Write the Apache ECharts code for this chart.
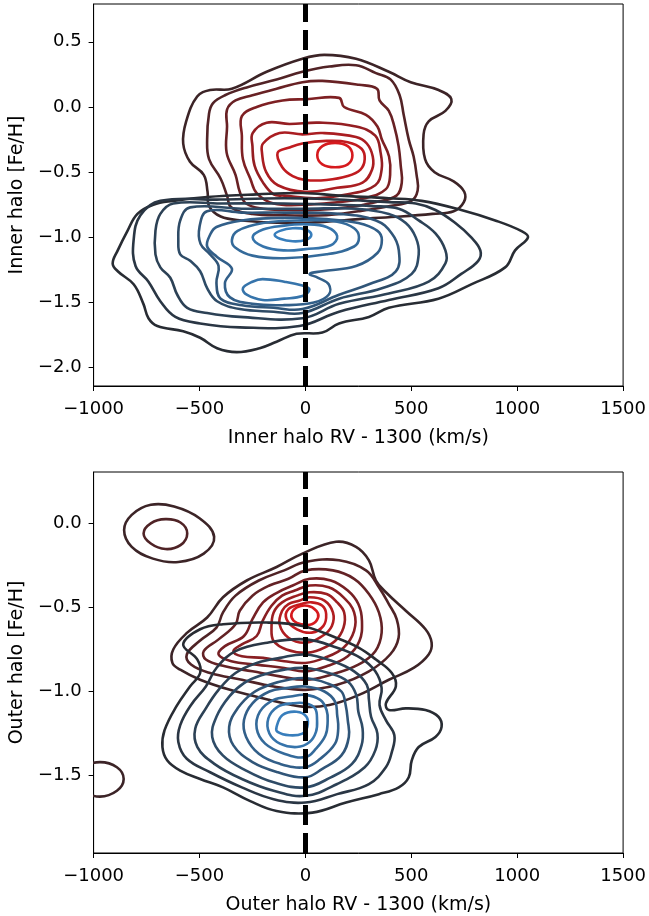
<!DOCTYPE html>
<html><head><meta charset="utf-8">
<script src="https://cdn.jsdelivr.net/npm/echarts@6/dist/echarts.min.js"></script>
<style>html,body{margin:0;padding:0;background:#fff}#c{width:649px;height:916px}</style>
</head><body><div id="c"></div>
<script>
// ---- Data ----
const xTicks = [-1000, -500, 0, 500, 1000, 1500];
const innerYTicks = [-2.0, -1.5, -1.0, -0.5, 0.0, 0.5];
const outerYTicks = [-1.5, -1.0, -0.5, 0.0];
const refX = [0];

// Inner halo, metal-rich population (red), outer -> inner contour
const innerRed = [
 [[-577,-0.28],[-563,-0.11],[-511,0.08],[-450,0.13],[-347,0.14],[-183,0.27],[-14,0.37],[89,0.40],[239,0.37],[394,0.27],[497,0.19],[629,0.13],[689,0.06],[661,-0.03],[582,-0.11],[558,-0.21],[565,-0.40],[610,-0.50],[700,-0.57],[750,-0.65],[748,-0.73],[700,-0.80],[600,-0.82],[450,-0.84],[250,-0.86],[100,-0.88],[-100,-0.89],[-300,-0.87],[-400,-0.84],[-455,-0.76],[-462,-0.65],[-480,-0.52],[-545,-0.42]],
 [[-464,-0.25],[-455,-0.05],[-436,0.03],[-380,0.09],[-277,0.15],[-136,0.21],[-14,0.27],[113,0.31],[239,0.32],[333,0.26],[403,0.21],[445,0.09],[464,-0.06],[488,-0.25],[511,-0.38],[525,-0.52],[530,-0.64],[500,-0.72],[400,-0.76],[250,-0.80],[100,-0.83],[-100,-0.83],[-250,-0.82],[-350,-0.77],[-370,-0.68],[-400,-0.55],[-455,-0.40]],
 [[-372,-0.35],[-370,-0.15],[-370,-0.02],[-330,0.05],[-250,0.09],[-136,0.14],[-14,0.19],[80,0.20],[253,0.17],[338,0.14],[350,0.05],[394,-0.03],[420,-0.15],[440,-0.30],[450,-0.45],[455,-0.58],[430,-0.68],[330,-0.73],[200,-0.77],[50,-0.79],[-100,-0.79],[-200,-0.78],[-280,-0.74],[-310,-0.65],[-330,-0.52]],
 [[-300,-0.22],[-300,-0.07],[-230,0.0],[-108,0.05],[5,0.06],[159,0.07],[183,0.0],[286,-0.06],[340,-0.15],[361,-0.25],[395,-0.38],[400,-0.52],[380,-0.63],[280,-0.70],[150,-0.73],[0,-0.75],[-150,-0.74],[-230,-0.66],[-260,-0.55],[-295,-0.40]],
 [[-250,-0.30],[-249,-0.20],[-183,-0.12],[-75,-0.13],[66,-0.12],[239,-0.15],[330,-0.22],[355,-0.35],[360,-0.48],[330,-0.60],[200,-0.67],[50,-0.70],[-100,-0.68],[-150,-0.67],[-200,-0.58],[-240,-0.45]],
 [[-205,-0.35],[-200,-0.28],[-122,-0.20],[-14,-0.21],[80,-0.20],[239,-0.23],[290,-0.28],[318,-0.38],[315,-0.48],[270,-0.58],[150,-0.62],[0,-0.65],[-130,-0.60],[-185,-0.50]],
 [[-131,-0.35],[-75,-0.31],[-14,-0.28],[100,-0.26],[200,-0.27],[265,-0.32],[280,-0.40],[260,-0.48],[200,-0.53],[100,-0.56],[0,-0.56],[-60,-0.53],[-110,-0.46]],
 [[56,-0.37],[80,-0.30],[140,-0.275],[200,-0.30],[222,-0.37],[200,-0.44],[140,-0.462],[80,-0.44]]
];
const innerRedLevels = [0,1,2,3,4,5,6,7];

// Inner halo, metal-poor population (blue)
const innerBlue = [
 [[-14,-0.66],[-230,-0.67],[-464,-0.69],[-624,-0.72],[-718,-0.75],[-793,-0.82],[-840,-0.95],[-886,-1.10],[-910,-1.20],[-886,-1.26],[-811,-1.36],[-765,-1.51],[-741,-1.62],[-699,-1.68],[-577,-1.72],[-497,-1.77],[-417,-1.85],[-324,-1.88],[-216,-1.85],[-136,-1.80],[-42,-1.74],[80,-1.73],[159,-1.66],[300,-1.61],[394,-1.54],[628,-1.47],[783,-1.36],[943,-1.23],[990,-1.10],[1051,-1.00],[1018,-0.95],[896,-0.87],[736,-0.79],[549,-0.72],[394,-0.70],[159,-0.68]],
 [[-685,-0.72],[-779,-0.83],[-811,-1.02],[-802,-1.22],[-741,-1.34],[-685,-1.49],[-614,-1.61],[-497,-1.66],[-310,-1.69],[-28,-1.68],[159,-1.57],[394,-1.48],[628,-1.39],[736,-1.28],[816,-1.18],[826,-1.10],[783,-1.0],[708,-0.89],[614,-0.79],[521,-0.74],[394,-0.73],[150,-0.71],[-100,-0.70],[-400,-0.71]],
 [[-624,-0.74],[-685,-0.82],[-708,-0.95],[-708,-1.13],[-685,-1.23],[-638,-1.31],[-605,-1.44],[-558,-1.54],[-464,-1.58],[-310,-1.61],[-14,-1.62],[159,-1.51],[394,-1.43],[582,-1.34],[661,-1.20],[661,-1.10],[614,-0.97],[535,-0.87],[441,-0.78],[314,-0.76],[150,-0.75],[-100,-0.74],[-400,-0.74]],
 [[-544,-0.77],[-591,-0.87],[-600,-1.03],[-591,-1.13],[-544,-1.18],[-497,-1.26],[-464,-1.39],[-417,-1.49],[-310,-1.55],[-150,-1.57],[-14,-1.58],[159,-1.47],[361,-1.39],[502,-1.28],[535,-1.13],[521,-1.0],[474,-0.89],[394,-0.82],[239,-0.78],[0,-0.78],[-300,-0.78]],
 [[-464,-0.80],[-500,-0.92],[-495,-1.05],[-450,-1.13],[-410,-1.22],[-420,-1.35],[-400,-1.47],[-300,-1.52],[-150,-1.54],[-14,-1.55],[159,-1.44],[300,-1.36],[427,-1.26],[441,-1.10],[408,-0.97],[333,-0.87],[159,-0.82],[-100,-0.81],[-300,-0.81]],
 [[-450,-0.98],[-420,-0.92],[-300,-0.87],[-100,-0.85],[100,-0.86],[250,-0.89],[340,-0.95],[361,-1.02],[340,-1.12],[239,-1.22],[80,-1.26],[20,-1.28],[60,-1.31],[110,-1.36],[110,-1.44],[40,-1.50],[-100,-1.52],[-250,-1.51],[-356,-1.46],[-380,-1.35],[-347,-1.24],[-417,-1.15],[-464,-1.07]],
 [[-347,-1.02],[-320,-0.95],[-200,-0.89],[-14,-0.87],[150,-0.88],[230,-0.93],[253,-1.0],[230,-1.07],[100,-1.13],[-100,-1.16],[-250,-1.14],[-330,-1.08]],
 [[-249,-1.0],[-200,-0.94],[-100,-0.91],[0,-0.90],[100,-0.92],[150,-0.99],[120,-1.06],[0,-1.09],[-100,-1.10],[-200,-1.07]],
 [[-295,-1.39],[-250,-1.34],[-202,-1.32],[-100,-1.34],[-14,-1.37],[19,-1.40],[-14,-1.45],[-100,-1.47],[-202,-1.48],[-277,-1.44]],
 [[-145,-0.98],[-120,-0.95],[-60,-0.93],[0,-0.94],[28,-0.98],[0,-1.02],[-60,-1.03],[-120,-1.01]]
];
const innerBlueLevels = [0,1,2,3,4,5,6,7,7,8];

// Outer halo, metal-rich population (red)
const outerRed = [
 [[-14,-0.18],[145,-0.11],[239,-0.14],[300,-0.22],[333,-0.34],[380,-0.41],[474,-0.52],[567,-0.63],[596,-0.71],[582,-0.78],[511,-0.86],[394,-0.93],[253,-1.02],[113,-1.08],[-14,-1.09],[-169,-1.05],[-356,-0.99],[-497,-0.93],[-591,-0.87],[-628,-0.83],[-624,-0.75],[-558,-0.65],[-464,-0.56],[-389,-0.44],[-277,-0.34],[-136,-0.26]],
 [[-100,-0.28],[0,-0.23],[159,-0.22],[286,-0.28],[347,-0.38],[394,-0.48],[431,-0.57],[440,-0.68],[400,-0.78],[300,-0.88],[150,-0.96],[0,-0.99],[-150,-0.97],[-300,-0.93],[-450,-0.89],[-540,-0.84],[-560,-0.78],[-500,-0.70],[-420,-0.62],[-389,-0.53],[-330,-0.43],[-220,-0.34]],
 [[-80,-0.33],[0,-0.28],[130,-0.28],[230,-0.33],[300,-0.42],[347,-0.53],[360,-0.65],[330,-0.76],[250,-0.84],[120,-0.90],[0,-0.93],[-120,-0.91],[-250,-0.88],[-380,-0.85],[-470,-0.81],[-480,-0.76],[-410,-0.69],[-330,-0.60],[-310,-0.52],[-250,-0.43],[-170,-0.37]],
 [[-60,-0.37],[20,-0.33],[120,-0.34],[200,-0.40],[250,-0.48],[267,-0.58],[255,-0.70],[200,-0.79],[100,-0.85],[0,-0.88],[-100,-0.86],[-230,-0.84],[-350,-0.82],[-410,-0.78],[-380,-0.73],[-290,-0.67],[-250,-0.57],[-200,-0.47],[-130,-0.41]],
 [[-50,-0.40],[20,-0.37],[110,-0.38],[180,-0.44],[230,-0.53],[230,-0.64],[180,-0.74],[90,-0.80],[0,-0.83],[-100,-0.82],[-200,-0.80],[-300,-0.79],[-340,-0.76],[-300,-0.72],[-230,-0.67],[-202,-0.58],[-160,-0.49],[-110,-0.43]],
 [[-40,-0.43],[20,-0.41],[100,-0.42],[150,-0.47],[183,-0.53],[180,-0.62],[140,-0.70],[70,-0.75],[0,-0.77],[-90,-0.75],[-150,-0.70],[-160,-0.62],[-150,-0.53],[-110,-0.47]],
 [[-30,-0.46],[20,-0.44],[90,-0.46],[130,-0.53],[125,-0.61],[80,-0.67],[0,-0.71],[-80,-0.68],[-122,-0.60],[-110,-0.52],[-80,-0.48]],
 [[-20,-0.48],[30,-0.47],[80,-0.49],[98,-0.54],[85,-0.61],[30,-0.65],[-40,-0.63],[-89,-0.57],[-80,-0.51]],
 [[-66,-0.54],[-40,-0.50],[10,-0.49],[52,-0.52],[60,-0.56],[30,-0.60],[-20,-0.60],[-55,-0.58]],
 // isolated islands
 [[-856,-0.04],[-820,0.05],[-730,0.11],[-620,0.10],[-500,0.03],[-431,-0.08],[-480,-0.18],[-600,-0.23],[-720,-0.21],[-820,-0.14]],
 [[-764,-0.06],[-730,0.0],[-661,0.025],[-590,0.005],[-558,-0.06],[-590,-0.13],[-661,-0.153],[-730,-0.12]],
 [[-970,-1.42],[-890,-1.45],[-858,-1.52],[-890,-1.59],[-970,-1.625],[-1050,-1.59],[-1082,-1.52],[-1050,-1.45]]
];
const outerRedLevels = [0,1,2,3,4,5,6,7,8,0,1,0];

// Outer halo, metal-poor population (blue)
const outerBlue = [
 [[-14,-0.61],[145,-0.68],[253,-0.74],[333,-0.81],[408,-0.89],[427,-0.97],[380,-1.07],[394,-1.11],[474,-1.10],[567,-1.11],[628,-1.15],[643,-1.21],[614,-1.27],[535,-1.33],[502,-1.41],[488,-1.51],[441,-1.57],[347,-1.61],[192,-1.66],[33,-1.72],[-136,-1.71],[-263,-1.65],[-389,-1.57],[-497,-1.52],[-591,-1.47],[-652,-1.41],[-675,-1.33],[-665,-1.23],[-610,-1.09],[-545,-0.97],[-497,-0.89],[-510,-0.81],[-577,-0.72],[-497,-0.63],[-389,-0.60],[-183,-0.59]],
 [[0,-0.69],[150,-0.74],[260,-0.80],[330,-0.88],[360,-0.98],[350,-1.08],[380,-1.17],[420,-1.26],[408,-1.36],[380,-1.45],[300,-1.55],[150,-1.61],[0,-1.66],[-150,-1.64],[-300,-1.57],[-450,-1.48],[-560,-1.40],[-600,-1.30],[-591,-1.20],[-540,-1.08],[-470,-0.97],[-420,-0.86],[-330,-0.76],[-180,-0.71]],
 [[0,-0.78],[130,-0.82],[230,-0.88],[290,-0.96],[300,-1.05],[310,-1.15],[340,-1.25],[330,-1.35],[280,-1.45],[150,-1.55],[0,-1.62],[-150,-1.59],[-300,-1.52],[-430,-1.43],[-510,-1.33],[-520,-1.22],[-470,-1.10],[-410,-0.99],[-330,-0.89],[-230,-0.83],[-120,-0.80]],
 [[0,-0.86],[110,-0.89],[200,-0.94],[240,-1.02],[250,-1.12],[270,-1.22],[265,-1.32],[220,-1.43],[120,-1.51],[0,-1.57],[-150,-1.54],[-280,-1.47],[-390,-1.38],[-440,-1.27],[-420,-1.15],[-360,-1.03],[-290,-0.95],[-200,-0.90],[-100,-0.87]],
 [[0,-0.92],[100,-0.95],[170,-1.00],[190,-1.08],[200,-1.17],[205,-1.27],[170,-1.38],[80,-1.46],[0,-1.51],[-130,-1.48],[-250,-1.42],[-340,-1.32],[-360,-1.21],[-320,-1.10],[-250,-1.01],[-170,-0.96],[-80,-0.93]],
 [[0,-0.97],[90,-1.00],[140,-1.06],[150,-1.14],[155,-1.22],[140,-1.31],[70,-1.40],[0,-1.45],[-120,-1.43],[-220,-1.37],[-280,-1.27],[-290,-1.17],[-250,-1.07],[-170,-1.00],[-90,-0.98]],
 [[0,-1.02],[70,-1.05],[100,-1.11],[105,-1.18],[95,-1.26],[50,-1.34],[0,-1.39],[-100,-1.37],[-190,-1.31],[-230,-1.22],[-215,-1.12],[-150,-1.05],[-70,-1.03]],
 [[0,-1.07],[45,-1.10],[55,-1.17],[50,-1.24],[20,-1.30],[-40,-1.33],[-120,-1.31],[-170,-1.25],[-175,-1.16],[-130,-1.09],[-60,-1.07]],
 [[-136,-1.21],[-108,-1.14],[-42,-1.12],[5,-1.15],[9,-1.21],[-14,-1.25],[-75,-1.26],[-131,-1.24]]
];
const outerBlueLevels = [0,1,2,3,4,5,6,7,8];

// ---- Styling ----
const FONT = 'DejaVu Sans';
function palette(dark, bright, n) {
  const out = [];
  for (let i = 0; i < n; i++) {
    const t = n === 1 ? 1 : i / (n - 1);
    const c = dark.map((d, k) => Math.round(d + (bright[k] - d) * t));
    out.push('rgb(' + c.join(',') + ')');
  }
  return out;
}
const redDark = [60, 36, 39], redBright = [214, 26, 30];
const blueDark = [40, 44, 51], blueBright = [56, 126, 188];

function contourSeries(contours, levels, colors, gi) {
  return {
    type: 'custom', xAxisIndex: gi, yAxisIndex: gi, clip: true, silent: true,
    animation: false,
    data: contours.map((c, i) => [c[0][0], c[0][1], i]),
    renderItem: function (params, api) {
      const i = api.value(2);
      const pts = contours[i].map(p => api.coord(p));
      return {
        type: 'polygon',
        shape: { points: pts, smooth: 0.4 },
        style: { fill: 'none', stroke: colors[levels[i]], lineWidth: 2.6 }
      };
    }
  };
}
function refSeries(gi) {
  return {
    type: 'line', xAxisIndex: gi, yAxisIndex: gi, data: [], z: 10, animation: false,
    markLine: {
      silent: true, symbol: 'none', animation: false, label: { show: false },
      lineStyle: { color: '#000', width: 5, type: [20, 8] },
      data: refX.map(v => ({ xAxis: v }))
    }
  };
}
const minus = '\u2212';
const fmtY = v => (v < 0 ? minus : '') + Math.abs(v).toFixed(1);
const fmtX = v => (v < 0 ? minus : '') + Math.abs(v);

function xAxis(gi, name) {
  return {
    gridIndex: gi, type: 'value', min: -1000, max: 1500, interval: 500,
    axisLine: { show: true, onZero: false, lineStyle: { color: '#000', width: 1 } },
    axisTick: { show: true, length: 5, lineStyle: { color: '#000', width: 1 } },
    axisLabel: { fontFamily: FONT, fontSize: 18, color: '#000', margin: 14, formatter: fmtX, showMinLabel: true, showMaxLabel: true },
    splitLine: { show: false },
    name: name, nameLocation: 'middle', nameGap: 43,
    nameTextStyle: { fontFamily: FONT, fontSize: 19, color: '#000' }
  };
}
function yAxis(gi, name, min, max, ticks) {
  return {
    gridIndex: gi, type: 'value', min: min, max: max,
    axisLine: { show: true, onZero: false, lineStyle: { color: '#000', width: 1 } },
    axisTick: { show: true, length: 5, customValues: ticks, lineStyle: { color: '#000', width: 1 } },
    axisLabel: { fontFamily: FONT, fontSize: 18, color: '#000', margin: 12, formatter: fmtY, customValues: ticks },
    splitLine: { show: false },
    name: name, nameLocation: 'middle', nameGap: 61,
    nameTextStyle: { fontFamily: FONT, fontSize: 19, color: '#000' }
  };
}

const chart = echarts.init(document.getElementById('c'), null, { renderer: 'canvas' });
chart.setOption({
  animation: false,
  backgroundColor: '#fff',
  textStyle: { fontFamily: FONT },
  grid: [
    { left: 93, top: 4, width: 533, height: 382, show: true, borderColor: '#000', borderWidth: 1, backgroundColor: 'transparent' },
    { left: 93, top: 472, width: 533, height: 381, show: true, borderColor: '#000', borderWidth: 1, backgroundColor: 'transparent' }
  ],
  xAxis: [xAxis(0, 'Inner halo RV - 1300 (km/s)'), xAxis(1, 'Outer halo RV - 1300 (km/s)')],
  yAxis: [yAxis(0, 'Inner halo [Fe/H]', -2.14, 0.79, innerYTicks), yAxis(1, 'Outer halo [Fe/H]', -1.96, 0.305, outerYTicks)],
  series: [
    contourSeries(innerRed, innerRedLevels, palette(redDark, redBright, 8), 0),
    contourSeries(innerBlue, innerBlueLevels, palette(blueDark, blueBright, 9), 0),
    refSeries(0),
    contourSeries(outerRed, outerRedLevels, palette(redDark, redBright, 9), 1),
    contourSeries(outerBlue, outerBlueLevels, palette(blueDark, blueBright, 9), 1),
    refSeries(1)
  ]
});
</script>
</body></html>
